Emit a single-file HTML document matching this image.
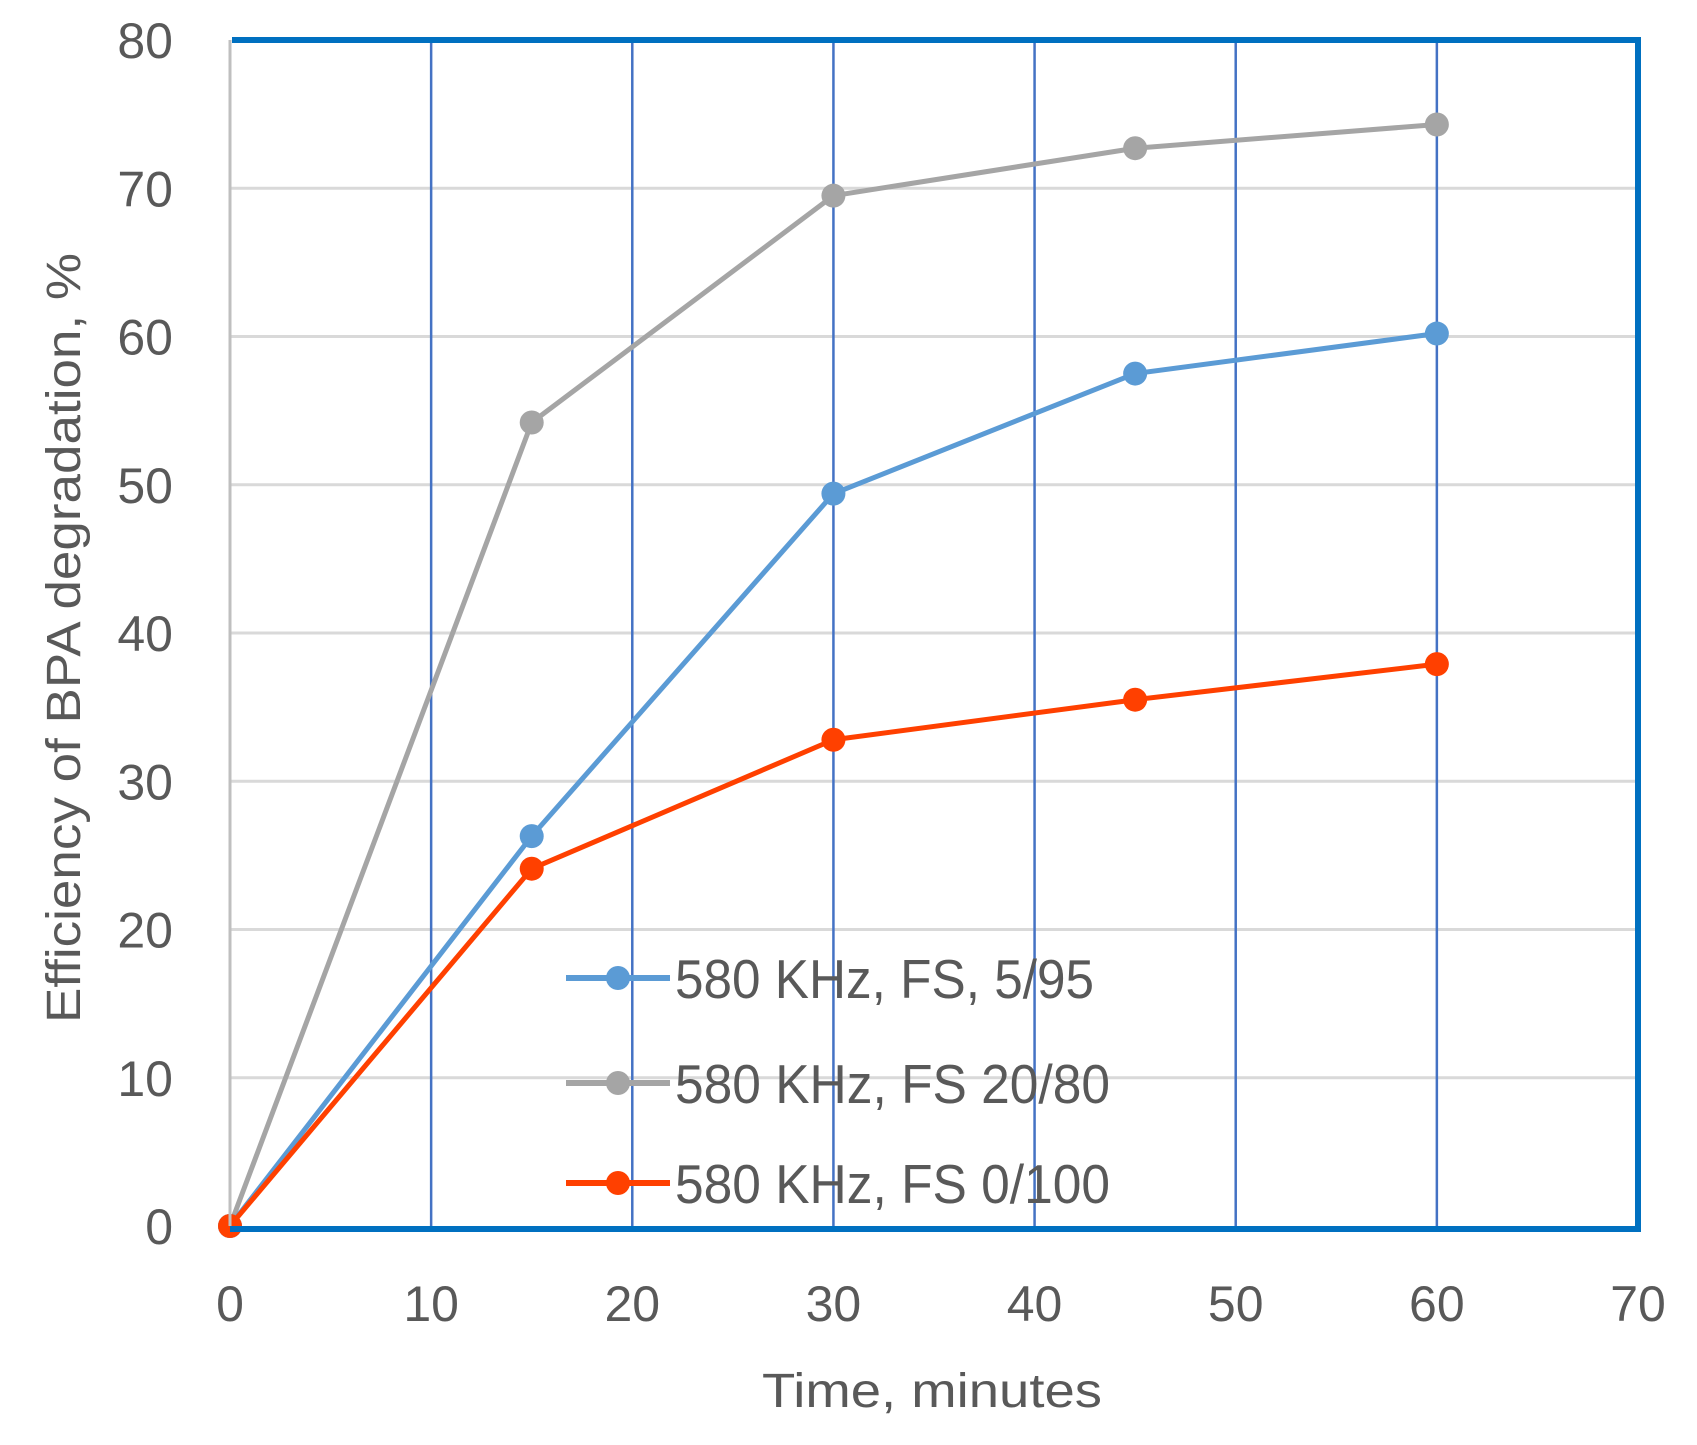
<!DOCTYPE html>
<html><head><meta charset="utf-8"><style>
html,body{margin:0;padding:0;background:#fff}
svg{display:block}
text{font-family:"Liberation Sans",sans-serif;fill:#595959}
</style></head><body>
<svg id="chart" width="1697" height="1445" viewBox="0 0 1697 1445" xmlns="http://www.w3.org/2000/svg">
<g id="grid"></g><g id="series"></g><g id="axes"></g><g id="legend"></g>
<text x="932" y="1407" font-size="48" text-anchor="middle" textLength="340" lengthAdjust="spacingAndGlyphs">Time, minutes</text>
<text transform="translate(80,638) rotate(-90)" font-size="48" text-anchor="middle" textLength="770" lengthAdjust="spacingAndGlyphs">Efficiency of BPA degradation, %</text>
</svg>
<script>
const xTicks=[0,10,20,30,40,50,60,70];
const yTicks=[0,10,20,30,40,50,60,70,80];
const times=[0,15,30,45,60];
const blueVals=[0,26.3,49.4,57.5,60.2];
const grayVals=[0,54.2,69.5,72.7,74.3];
const redVals=[0,24.1,32.8,35.5,37.9];
const seriesNames=["580 KHz, FS, 5/95","580 KHz, FS 20/80","580 KHz, FS 0/100"];

const NS="http://www.w3.org/2000/svg";
const L=230,R=1638,T=40,B=1226;
const xs=v=>L+(v-0)/70*(R-L);
const ys=v=>B-(v-0)/80*(B-T);
function mk(tag,attrs,parent){const e=document.createElementNS(NS,tag);for(const k in attrs)e.setAttribute(k,attrs[k]);parent.appendChild(e);return e;}
const grid=document.getElementById('grid'),axes=document.getElementById('axes'),ser=document.getElementById('series'),leg=document.getElementById('legend');
yTicks.forEach(v=>{
  if(v>0&&v<80){const g=mk('line',{x1:L,x2:R,y1:ys(v),y2:ys(v),stroke:'#d9d9d9','stroke-width':3},grid);
  
  }
  const t=mk('text',{x:173,y:ys(v)+18,'font-size':50,'text-anchor':'end'},axes);t.textContent=v;
  
  
});
xTicks.forEach(v=>{
  if(v>0&&v<70){const g=mk('line',{x1:xs(v),x2:xs(v),y1:T,y2:B,stroke:'#4472c4','stroke-width':2.5},grid);
  
  }
  const t=mk('text',{x:xs(v),y:1321,'font-size':50,'text-anchor':'middle'},axes);t.textContent=v;
  
  
});
const lg=mk('line',{x1:L,x2:L,y1:T,y2:B,stroke:'#bfbfbf','stroke-width':3},axes);


const fr=mk('path',{d:`M${L+2},${T} H${R} V${B+3} H${L}`,fill:'none',stroke:'#0070c0','stroke-width':6},axes);


const colors=['#5b9bd5','#a5a5a5','#ff4000'];
const data=[blueVals,grayVals,redVals];
[1,0,2].forEach(i=>{
  const vals=data[i];
  const pl=mk('polyline',{points:times.map((t,j)=>xs(t)+','+ys(vals[j])).join(' '),fill:'none',stroke:colors[i],'stroke-width':5,'stroke-linejoin':'round'},ser);
  
  
  times.forEach((t,j)=>{const c=mk('circle',{cx:xs(t),cy:ys(vals[j]),r:12,fill:colors[i]},ser);
    
    });
});
const rows=[978,1083,1183],tl=[419,435,435];
seriesNames.forEach((n,i)=>{
  const l=mk('line',{x1:566,x2:670,y1:rows[i],y2:rows[i],stroke:colors[i],'stroke-width':6},leg);
  
  
  const c=mk('circle',{cx:618,cy:rows[i],r:12,fill:colors[i]},leg);
  
  
  const t=mk('text',{x:675,y:rows[i]+20,'font-size':55,textLength:tl[i],lengthAdjust:'spacingAndGlyphs'},leg);t.textContent=n;
  
  
});
</script>
</body></html>
